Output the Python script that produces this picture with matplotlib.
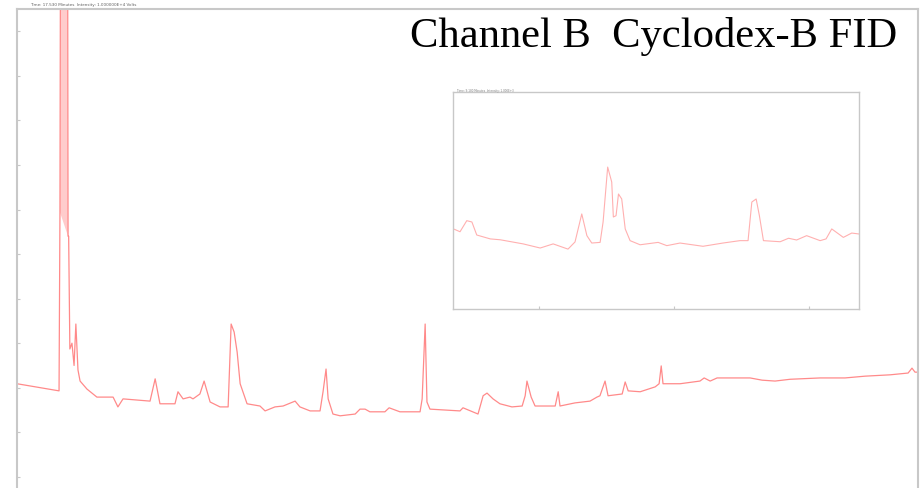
import matplotlib.pyplot as plt
from matplotlib.ticker import MultipleLocator, NullFormatter

# main FID trace, retention time in minutes, signal in arbitrary units
t_main = [0.00, 1.40, 1.43, 1.47, 1.67, 1.70, 1.72, 1.76,
          1.83, 1.90, 1.96, 2.03, 2.10, 2.33, 2.66, 3.20, 3.36, 3.53, 4.43, 4.60,
          4.76, 5.26, 5.36, 5.53, 5.76, 5.86, 6.09, 6.23, 6.43, 6.76, 7.03, 7.13,
          7.23, 7.33, 7.43, 7.66, 8.09, 8.26, 8.59, 8.86, 9.26, 9.42, 9.76, 10.09,
          10.19, 10.29, 10.36, 10.52, 10.76, 11.26, 11.42, 11.59, 11.75, 12.25,
          12.39, 12.75, 13.42, 13.49, 13.59, 13.65, 13.75, 14.75, 14.85, 15.35,
          15.52, 15.65, 15.85, 16.08, 16.48, 16.82, 16.92, 16.98, 17.05, 17.12,
          17.25, 17.92, 18.02, 18.08, 18.58, 19.08, 19.31, 19.41, 19.58, 19.68,
          20.15, 20.25, 20.35, 20.75, 21.25, 21.38, 21.45, 21.51, 22.08, 22.74,
          22.88, 23.08, 23.31, 23.74, 24.41, 24.81, 25.24, 25.74, 26.74, 27.57,
          28.24, 29.07, 29.67, 29.80, 29.90, 30.00]
v_main = [20.9, 19.3, 59.4, 200.0, 200.0, 54.0, 54.0, 28.7,
          30.0, 25.0, 34.3, 24.0, 21.5, 19.7, 17.9, 17.9, 15.7, 17.5, 17.0, 22.0,
          16.4, 16.4, 19.1, 17.5, 17.9, 17.5, 18.6, 21.5, 16.8, 15.7, 15.7, 34.3,
          32.5, 28.0, 20.9, 16.4, 15.9, 14.8, 15.7, 15.9, 17.0, 15.7, 14.8, 14.8,
          19.1, 24.2, 17.5, 14.1, 13.7, 14.1, 15.2, 15.2, 14.6, 14.6,
          15.5, 14.6, 14.6, 17.5, 34.3, 16.8, 15.2, 14.8, 15.5, 14.1,
          18.2, 18.8, 17.5, 16.4, 15.7, 15.9, 18.2, 21.5, 19.7, 17.9,
          15.9, 15.9, 19.1, 15.9, 16.6, 17.0, 17.9, 18.2, 21.5, 18.2,
          18.6, 21.3, 19.3, 19.1, 20.2, 20.9, 24.9, 20.9, 20.9, 21.5,
          22.2, 21.5, 22.2, 22.2, 22.2, 21.7, 21.5, 21.9, 22.2, 22.2,
          22.6, 22.9, 23.3, 24.4, 23.5, 23.5]

# expanded window around 9.2 - 10.7 min
t_zoom = [9.183, 9.207, 9.232, 9.251, 9.269, 9.319, 9.356, 9.441, 9.504, 9.552,
          9.607, 9.633, 9.658, 9.677, 9.695, 9.726, 9.737, 9.754, 9.769, 9.775,
          9.785, 9.794, 9.806, 9.819, 9.837, 9.874, 9.941, 9.973, 10.022, 10.107,
          10.181, 10.244, 10.274, 10.288, 10.304, 10.316, 10.331, 10.393, 10.424,
          10.454, 10.491, 10.541, 10.563, 10.584, 10.627, 10.658, 10.683]
v_zoom = [36.9, 35.6, 40.7, 40.1, 34.1, 32.3, 31.9, 30.0, 28.1, 30.0,
          27.6, 30.9, 43.8, 33.8, 30.4, 30.7, 40.1, 65.4, 58.5, 42.4,
          43.0, 53.0, 50.7, 36.9, 31.5, 29.6, 30.7, 29.2, 30.4, 28.9,
          30.4, 31.5, 31.5, 49.3, 50.7, 43.0, 31.5, 31.0, 32.6,
          31.8, 33.8, 31.5, 32.3, 36.9, 33.0, 35.0, 34.6]

SPINE = '#c8c8c8'
TRACE = '#ff8a8a'

fig = plt.figure(figsize=(9.22, 4.89), dpi=100)

ax = fig.add_axes([17 / 922, 0.0, 901 / 922, 479 / 489])
# solvent peak runs off scale, shade its body
ax.fill(t_main[2:6], v_main[2:6], color='#ffcccc', lw=0)
ax.plot(t_main, v_main, color=TRACE, lw=0.9)
ax.set_xlim(0, 30)
ax.set_ylim(-2.5, 105)
ax.yaxis.set_major_locator(MultipleLocator(10))
ax.yaxis.set_major_formatter(NullFormatter())
ax.set_xticks([])
ax.tick_params(axis='y', direction='in', length=2, color=SPINE)
for side in ('left', 'top', 'right'):
    ax.spines[side].set_color(SPINE)
    ax.spines[side].set_linewidth(1.5)
ax.spines['bottom'].set_visible(False)

fig.text(30 / 922, 1 - 5 / 489, 'Time: 17.530 Minutes  Intensity: 1.000000E+4 Volts',
         fontsize=3, color='#606060', va='center', ha='left')
fig.text(410 / 922, 1 - 47 / 489, 'Channel B  Cyclodex-B FID',
         family='Liberation Serif', fontsize=30.7, color='black',
         ha='left', va='baseline')

ins = fig.add_axes([453 / 922, 1 - 310 / 489, 406 / 922, 217 / 489])
ins.plot(t_zoom, v_zoom, color='#ffb0b0', lw=0.8)
ins.set_xlim(9.181, 10.685)
ins.set_ylim(0, 100)
ins.set_xticks([9.5, 10.0, 10.5])
ins.xaxis.set_major_formatter(NullFormatter())
ins.set_yticks([])
ins.tick_params(axis='x', direction='in', length=2, color=SPINE)
for side in ins.spines:
    ins.spines[side].set_color(SPINE)
    ins.spines[side].set_linewidth(1.0)
fig.text(457 / 922, 1 - 91 / 489, 'Time: 9.180 Minutes  Intensity: 1.000E+3',
         fontsize=2, color='#808080', va='center', ha='left')

fig.savefig('out.png', dpi=100)
